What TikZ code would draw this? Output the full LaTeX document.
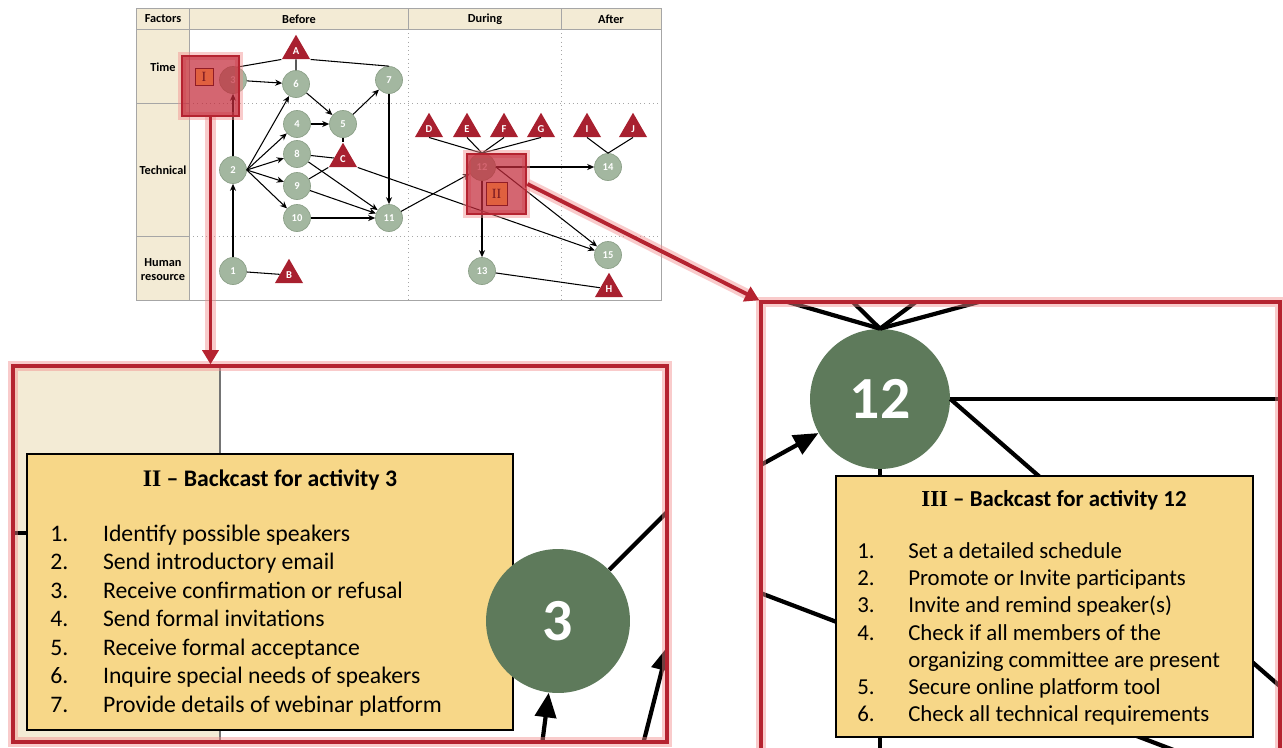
\documentclass[tikz,border=0pt]{standalone}
\usepackage{fontspec}
\setmainfont{Carlito}
\newfontfamily\romanfont{Liberation Serif}
\usetikzlibrary{arrows.meta,shapes.geometric}

\definecolor{beige}{HTML}{F3EBD5}
\definecolor{gridgray}{HTML}{A6A6A6}
\definecolor{actgreen}{HTML}{A3B7A0}
\definecolor{actedge}{HTML}{8DA189}
\definecolor{riskred}{HTML}{A8202F}
\definecolor{framered}{HTML}{B52330}
\definecolor{glowred}{HTML}{F28C8C}
\definecolor{hlred}{HTML}{C42B3B}
\definecolor{sqorange}{HTML}{E0603F}
\definecolor{biggreen}{HTML}{5E7A5B}
\definecolor{noteyellow}{HTML}{F7D788}

\begin{document}
\begin{tikzpicture}[x=0.02cm,y=-0.02cm,
        act/.style={circle,fill=actgreen,draw=actedge,line width=0.4pt,
            minimum size=0.54cm,inner sep=0pt,text=white,
            font=\bfseries\fontsize{6}{6}\selectfont},
        risk/.style={regular polygon,regular polygon sides=3,fill=riskred,
            minimum size=0.65cm,inner sep=0pt,text=white,
            font=\bfseries\fontsize{6}{6}\selectfont},
        link/.style={line width=0.6pt},
        arr/.style={line width=0.6pt,-{Stealth[length=4pt,width=3.5pt]}},
        hdr/.style={font=\bfseries\fontsize{7}{8}\selectfont,align=center},
        glow/.style={preaction={draw=glowred,line width=#1,opacity=0.45}},
        hlbox/.style={rectangle,fill=hlred,fill opacity=0.72,draw=framered,
            line width=1.6pt,glow=4.5pt,inner sep=0pt},
        sq/.style={rectangle,fill=sqorange,draw=framered!80!black,line width=0.5pt,
            text=riskred!70!black,font=\romanfont\fontsize{8}{8}\selectfont,inner sep=0pt},
        callout/.style={draw=framered,line width=2.2pt,glow=6pt,
            -{Triangle[length=8pt,width=9pt]}},
        frame/.style={rectangle,draw=framered,line width=2pt,glow=6pt,inner sep=0pt},
        bigact/.style={circle,fill=biggreen,inner sep=0pt,text=white,
            font=\bfseries\fontsize{34}{34}\selectfont},
        zlink/.style={line width=2.4pt},
        zarr/.style={line width=2.4pt,-{Triangle[length=14pt,width=12pt]}},
        note/.style={rectangle,fill=noteyellow,draw=black,line width=1.6pt,inner sep=0pt}]
\useasboundingbox (0,0) rectangle (1283,747);
\fill[white] (0,0) rectangle (1283,747);

% table
\fill[beige] (136,8) rectangle (661,29);
\fill[beige] (136,29) rectangle (189,300);
\draw[gridgray,dotted] (189,103) -- (661,103);
\draw[gridgray,dotted] (189,236) -- (661,236);
\draw[gridgray,dotted] (408,29) -- (408,300);
\draw[gridgray,dotted] (561,29) -- (561,300);
\draw[gridgray,line width=0.4pt] (136,103) -- (189,103);
\draw[gridgray,line width=0.4pt] (136,236) -- (189,236);
\draw[gridgray,line width=0.4pt] (408,8) -- (408,29);
\draw[gridgray,line width=0.4pt] (561,8) -- (561,29);
\draw[gridgray,line width=0.5pt] (136,29) -- (661,29);
\draw[gridgray,line width=0.5pt] (189,8) -- (189,300);
\draw[gridgray,line width=0.5pt] (136,8) rectangle (661,300);

\node[hdr] (hFactors) at (163,19) {Factors};
\node[hdr] (hBefore) at (299,19) {Before};
\node[hdr] (hDuring) at (485,19) {During};
\node[hdr] (hAfter) at (611,19) {After};
\node[hdr] (rTime) at (163,67) {Time};
\node[hdr] (rTech) at (163,170) {Technical};
\node[hdr] (rHuman) at (163,270) {Human\\resource};

% activities
\node[act] (n1) at (233,271) {1};
\node[act] (n2) at (233,170) {2};
\node[act] (n3) at (233,80) {3};
\node[act] (n4) at (297,124) {4};
\node[act] (n5) at (343,124) {5};
\node[act] (n6) at (296,84) {6};
\node[act] (n7) at (389,80) {7};
\node[act] (n8) at (297,154) {8};
\node[act] (n9) at (297,186) {9};
\node[act] (n10) at (297,218) {10};
\node[act] (n11) at (389,218) {11};
\node[act] (n12) at (482,167) {12};
\node[act] (n13) at (482,271) {13};
\node[act] (n14) at (608,167) {14};
\node[act] (n15) at (608,255) {15};

% risks
\node[risk] (tA) at (296,51) {A};
\node[risk] (tB) at (289,275) {B};
\node[risk] (tC) at (343,159) {C};
\node[risk] (tD) at (429,129) {D};
\node[risk] (tE) at (467,129) {E};
\node[risk] (tF) at (504,129) {F};
\node[risk] (tG) at (541,129) {G};
\node[risk] (tH) at (609,289) {H};
\node[risk] (tI) at (587,129) {I};
\node[risk] (tJ) at (633,129) {J};

\draw[link] (n3.70) -- (tA.corner 2);
\draw[link] (tA.south) -- (n6);
\draw[link] (tA.corner 3) -- (n7.north);
\draw[arr] (n3) -- (n6);
\draw[arr] (n6) -- (n5);
\draw[arr] (n5) -- (n7);
\draw[arr] (n4) -- (n5);
\draw[link] (n5.south) -- (tC.corner 1);
\draw[arr] (n1) -- (n2);
\draw[arr] (n2) -- (n3);
\draw[arr] (n2.east) -- (n6);
\draw[arr] (n2.east) -- (n4);
\draw[arr] (n2.east) -- (n8);
\draw[arr] (n2.east) -- (n9);
\draw[arr] (n2.east) -- (n10);
\draw[link] (n8) -- (tC);
\draw[link] (n9) -- (tC.corner 2);
\draw[arr] (n8) -- (n11);
\draw[arr] (n9) -- (n11);
\draw[arr] (n10) -- (n11);
\draw[arr] (n7) -- (n11);
\draw[arr] (tC.corner 3) -- (n15);
\draw[arr] (n11) -- (n12);
\draw[link] (tD.south) -- (n12.north);
\draw[link] (tE.south) -- (n12.north);
\draw[link] (tF.south) -- (n12.north);
\draw[link] (tG.south) -- (n12.north);
\draw[arr] (n12.east) -- (n14);
\draw[arr] (n12) -- (n13);
\draw[arr] (n12.east) -- (n15);
\draw[link] (tI.south) -- (n14.north);
\draw[link] (tJ.south) -- (n14.north);
\draw[link] (n13) -- (tH);
\draw[link] (n1) -- (tB);

% highlighted activities
\node[hlbox,minimum width=1.14cm,minimum height=1.2cm] (hl1) at (210.5,86) {};
\node[sq,minimum width=0.36cm,minimum height=0.34cm] (sq1) at (204,77) {I};
\node[hlbox,minimum width=1.18cm,minimum height=1.2cm] (hl2) at (496.5,184) {};
\node[sq,minimum width=0.42cm,minimum height=0.46cm] (sq2) at (496.5,193.5) {II};

% left close-up
\coordinate (L1) at (13,366);
\coordinate (L2) at (667,742);
\begin{scope}
\clip (L1) rectangle (L2);
\fill[white] (L1) rectangle (L2);
\fill[beige] (L1) rectangle (220,742);
\draw[gridgray!70!black,line width=1pt] (220,366) -- (220,742);
\coordinate (z3ne) at (700,479);
\coordinate (z3s) at (540,760);
\coordinate (z3se) at (639,760);
\coordinate (z3up) at (668,646);
\coordinate (z3w) at (0,533);
\draw[zlink] (z3w) -- (40,533);
\node[note,minimum width=9.72cm,minimum height=5.52cm] (note3) at (270,592) {};
\node[font=\bfseries\fontsize{13.5}{16}\selectfont] (title3) at (270,480)
    {{\romanfont II} -- Backcast for activity 3};
\node[anchor=north west,inner sep=0pt,font=\fontsize{13.5}{16.2}\selectfont] (steps3) at (50,521)
    {\begin{tabular}{@{}p{30pt}@{}l@{}}
    1. & Identify possible speakers\\
    2. & Send introductory email\\
    3. & Receive confirmation or refusal\\
    4. & Send formal invitations\\
    5. & Receive formal acceptance\\
    6. & Inquire special needs of speakers\\
    7. & Provide details of webinar platform
    \end{tabular}};
\node[bigact,minimum size=2.88cm] (z3) at (558,621) {3};
\draw[zlink] (z3) -- (z3ne);
\draw[zarr] (z3s) -- (z3);
\draw[zarr] (z3se) -- (z3up);
\end{scope}
\node[frame,minimum width=13.08cm,minimum height=7.52cm] (zoomL) at (340,554) {};

% right close-up
\coordinate (R1) at (761,302);
\coordinate (R2) at (1280,770);
\begin{scope}
\clip (R1) rectangle (R2);
\fill[white] (R1) rectangle (R2);
\node[bigact,minimum size=2.8cm] (z12) at (880,399) {12};
\coordinate (zD) at (615,252);
\coordinate (zE) at (802,252);
\coordinate (zF) at (983,252);
\coordinate (zG) at (1164,252);
\coordinate (z11) at (419,654);
\coordinate (z13) at (880,900);
\coordinate (z14) at (1492,399);
\coordinate (z15) at (1492,871);
\coordinate (zC) at (263,404);
\draw[zlink] (zD) -- (z12.north);
\draw[zlink] (zE) -- (z12.north);
\draw[zlink] (zF) -- (z12.north);
\draw[zlink] (zG) -- (z12.north);
\draw[zarr] (z11) -- (z12);
\draw[zlink] (z12.east) -- (z14);
\draw[zlink] (z12.east) -- (z15);
\draw[zlink] (z12) -- (z13);
\draw[zlink] (zC) -- (z15);
\node[note,minimum width=8.34cm,minimum height=5.22cm] (note12) at (1044.5,606.5) {};
\node[font=\bfseries\fontsize{13}{16}\selectfont] (title12) at (1054,500)
    {{\romanfont III} -- Backcast for activity 12};
\node[anchor=north west,inner sep=0pt,font=\fontsize{13}{15.5}\selectfont] (steps12) at (857,539)
    {\begin{tabular}{@{}p{29pt}@{}l@{}}
    1. & Set a detailed schedule\\
    2. & Promote or Invite participants\\
    3. & Invite and remind speaker(s)\\
    4. & Check if all members of the\\
       & organizing committee are present\\
    5. & Secure online platform tool\\
    6. & Check all technical requirements
    \end{tabular}};
\end{scope}
\node[frame,minimum width=10.38cm,minimum height=9.36cm] (zoomR) at (1020.5,536) {};

% callouts
\draw[callout] (hl1.south) -- (hl1.south |- zoomL.north);
\draw[callout] (hl2.east) -- (zoomR.north west);
\end{tikzpicture}
\end{document}
